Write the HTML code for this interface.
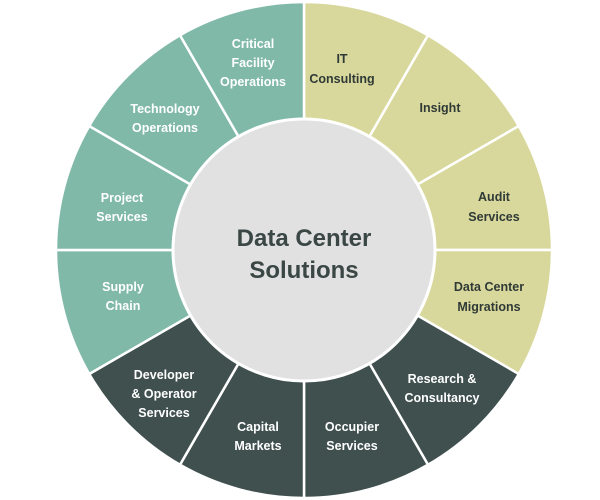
<!DOCTYPE html>
<html><head><meta charset="utf-8"><style>
html,body{margin:0;padding:0;background:#fff;width:600px;height:500px;overflow:hidden}
text{font-family:"Liberation Sans",sans-serif;font-size:12.5px;text-anchor:middle;font-weight:bold}
.w{fill:#fff}.d{fill:#2f3a36}
</style></head><body>
<svg id="s" width="600" height="500" viewBox="0 0 600 500" xmlns="http://www.w3.org/2000/svg">
<g id="wedges"></g>
<circle cx="304" cy="250" r="131" fill="#e1e1e1" stroke="#fff" stroke-width="3"/>
<text x="304" y="246" style="font-size:24px;fill:#3a4745">Data Center</text>
<text x="304" y="278" style="font-size:24px;fill:#3a4745">Solutions</text>

<text class="d" x="342" y="63">IT</text><text class="d" x="342" y="83">Consulting</text>
<text class="d" x="440" y="112">Insight</text>
<text class="d" x="494" y="201">Audit</text><text class="d" x="494" y="221">Services</text>
<text class="d" x="489" y="291">Data Center</text><text class="d" x="489" y="311">Migrations</text>
<text class="w" x="442" y="383">Research &amp;</text><text class="w" x="442" y="402">Consultancy</text>
<text class="w" x="352" y="431">Occupier</text><text class="w" x="352" y="450">Services</text>
<text class="w" x="258" y="431">Capital</text><text class="w" x="258" y="450">Markets</text>
<text class="w" x="164" y="379">Developer</text><text class="w" x="164" y="398">&amp; Operator</text><text class="w" x="164" y="417">Services</text>
<text class="w" x="123" y="291">Supply</text><text class="w" x="123" y="310">Chain</text>
<text class="w" x="122" y="202">Project</text><text class="w" x="122" y="221">Services</text>
<text class="w" x="165" y="113">Technology</text><text class="w" x="165" y="132">Operations</text>
<text class="w" x="253" y="48">Critical</text><text class="w" x="253" y="67">Facility</text><text class="w" x="253" y="86">Operations</text>
</svg>
<script>
var g=document.getElementById('wedges'),cx=304,cy=250,R=248;
var cols=['#d9d89c','#d9d89c','#d9d89c','#d9d89c','#3f504e','#3f504e','#3f504e','#3f504e','#80b9a8','#80b9a8','#80b9a8','#80b9a8'];
function p(a,r){a=a*Math.PI/180;return (cx+r*Math.sin(a)).toFixed(2)+' '+(cy-r*Math.cos(a)).toFixed(2);}
for(var i=0;i<12;i++){var a0=i*30,a1=a0+30;
var e=document.createElementNS('http://www.w3.org/2000/svg','path');
e.setAttribute('d','M'+cx+' '+cy+' L'+p(a0,R)+' A'+R+' '+R+' 0 0 1 '+p(a1,R)+' Z');
e.setAttribute('fill',cols[i]);e.setAttribute('stroke','#fff');e.setAttribute('stroke-width','2.5');g.appendChild(e);}
</script>
</body></html>
